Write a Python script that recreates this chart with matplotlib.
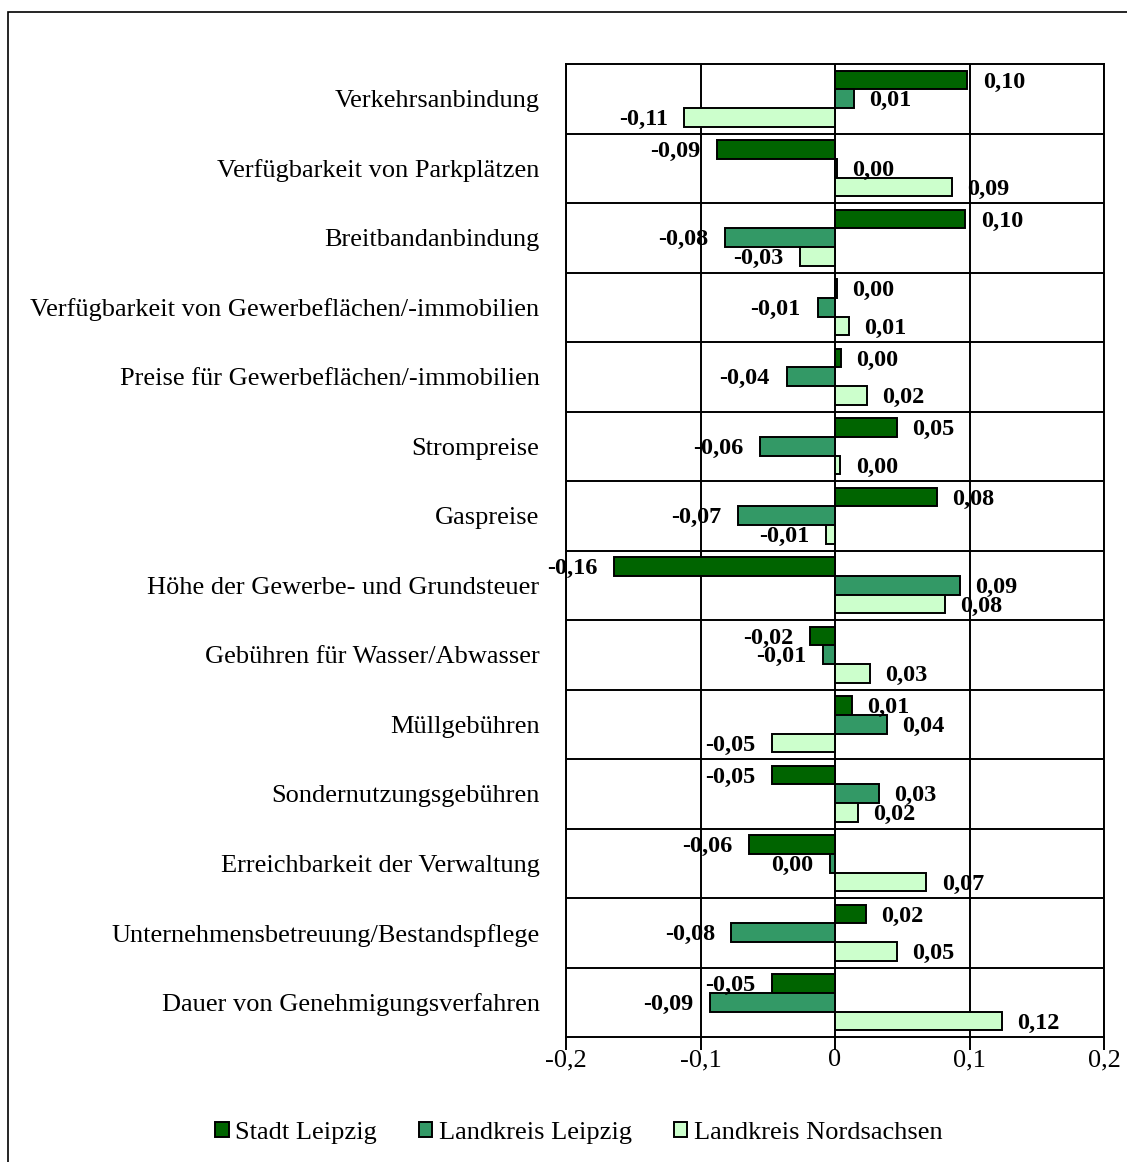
import numpy as np
import matplotlib.pyplot as plt
from matplotlib.patches import Patch, Rectangle

plt.rcParams['font.family'] = ['Liberation Serif', 'DejaVu Serif']

# Daten
kategorien = [
    'Verkehrsanbindung',
    'Verfügbarkeit von Parkplätzen',
    'Breitbandanbindung',
    'Verfügbarkeit von Gewerbeflächen/-immobilien',
    'Preise für Gewerbeflächen/-immobilien',
    'Strompreise',
    'Gaspreise',
    'Höhe der Gewerbe- und Grundsteuer',
    'Gebühren für Wasser/Abwasser',
    'Müllgebühren',
    'Sondernutzungsgebühren',
    'Erreichbarkeit der Verwaltung',
    'Unternehmensbetreuung/Bestandspflege',
    'Dauer von Genehmigungsverfahren',
]
stadt_leipzig = [0.0985, -0.088, 0.097, 0.0015, 0.0045, 0.046, 0.076, -0.164,
                 -0.0185, 0.0127, -0.0467, -0.064, 0.023, -0.0467]
lk_leipzig = [0.014, 0.0015, -0.0815, -0.013, -0.036, -0.056, -0.072, 0.093,
              -0.009, 0.0385, 0.0326, -0.0037, -0.077, -0.0926]
lk_nordsachsen = [-0.112, 0.087, -0.026, 0.0104, 0.024, 0.004, -0.007, 0.082,
                  0.026, -0.0467, 0.017, 0.068, 0.046, 0.124]
serien = ['Stadt Leipzig', 'Landkreis Leipzig', 'Landkreis Nordsachsen']
farben = ['#006400', '#339966', '#CCFFCC']
x_ticks = [-0.2, -0.1, 0, 0.1, 0.2]
x_ticklabels = ['-0,2', '-0,1', '0', '0,1', '0,2']

W, H = 1127, 1162
fig = plt.figure(figsize=(W / 100, H / 100), dpi=100)
ax = fig.add_axes([566 / W, 1 - 1037 / H, (1104 - 566) / W, (1037 - 64) / H])

# äußerer Rahmen
fig.patches.append(Rectangle((8 / W, -0.05), 1.2, 1 - 12 / H + 0.05,
                             transform=fig.transFigure, fill=False,
                             edgecolor='black', linewidth=1.2))

def fmt(v):
    s = f'{v:.2f}'
    if s == '-0.00':
        s = '0.00'
    return s.replace('.', ',')

y = np.arange(len(kategorien))
h = 0.268
for k, (werte, farbe) in enumerate(zip([stadt_leipzig, lk_leipzig, lk_nordsachsen], farben)):
    pos = y + (k - 1) * h
    ax.barh(pos, werte, height=h, color=farbe, edgecolor='black', linewidth=1.4, zorder=3)
    for p, v in zip(pos, werte):
        if v >= 0:
            ax.annotate(fmt(v), (v, p), xytext=(11, -1.5), textcoords='offset points',
                        ha='left', va='center', fontsize=17.5, fontweight='bold', zorder=4)
        else:
            ax.annotate(fmt(v), (v, p), xytext=(-12, -1.5), textcoords='offset points',
                        ha='right', va='center', fontsize=17.5, fontweight='bold', zorder=4)

ax.set_xlim(-0.2, 0.2)
ax.set_ylim(len(kategorien) - 0.5, -0.5)
ax.set_yticks(y)
ax.set_yticklabels(kategorien, fontsize=19)
ax.set_yticks(np.arange(0.5, len(kategorien) - 1, 1), minor=True)
ax.tick_params(axis='y', which='both', length=0, pad=19)
ax.set_xticks(x_ticks)
ax.set_xticklabels(x_ticklabels, fontsize=19)
ax.tick_params(axis='x', length=9, width=1.4, direction='out', pad=0)
ax.grid(axis='x', which='major', color='black', linewidth=1.4, zorder=1)
ax.grid(axis='y', which='minor', color='black', linewidth=1.4, zorder=1)
for s in ax.spines.values():
    s.set_linewidth(1.4)

handles = [Patch(facecolor=f, edgecolor='black', linewidth=1.4) for f in farben]
fig.legend(handles, serien, loc='center', bbox_to_anchor=(579 / W, 1 - 1133 / H),
           ncol=3, frameon=False, fontsize=19, handlelength=0.5, handleheight=0.5,
           handletextpad=0.25, columnspacing=1.6)

fig.savefig('out.png', dpi=100)
